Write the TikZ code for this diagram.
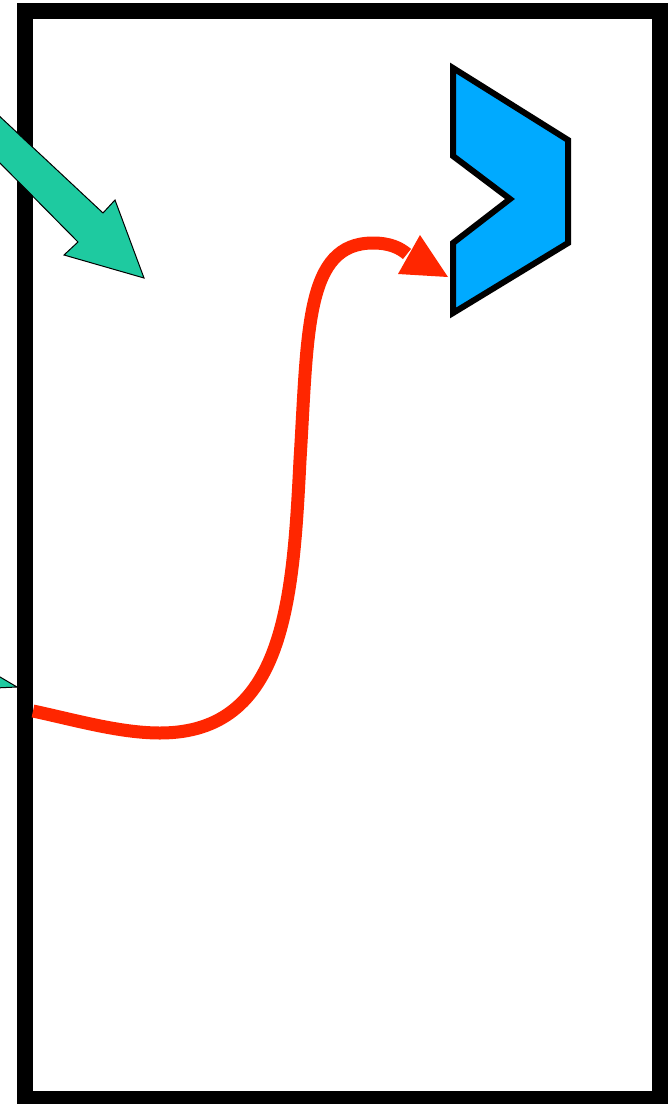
\documentclass[tikz,border=0pt]{standalone}
\usetikzlibrary{calc}
\definecolor{tealc}{RGB}{30,202,160}
\definecolor{redc}{RGB}{255,38,0}
\definecolor{bluec}{RGB}{0,170,255}
\tikzset{
  frame/.style={draw=black, line width=16pt, line join=miter},
  tealarrow/.style={fill=tealc, draw=black, line width=1pt, line join=miter},
  redline/.style={draw=redc, line width=13pt},
  redhead/.style={fill=redc},
  chevron/.style={fill=bluec, draw=black, line width=6pt, line join=miter}
}
\begin{document}
\begin{tikzpicture}[x=1pt, y=-1pt]
\useasboundingbox (0,0) rectangle (672,1104);
\fill[white] (0,0) rectangle (672,1104);
% frame
\draw[frame] (25,11) rectangle (659.5,1099);
% chevron shape
\draw[chevron] (453,68) -- (568,140) -- (568,243) -- (453,313) -- (453,243) -- (510,199) -- (453,156) -- cycle;
\coordinate (chev) at (448,277);
% red curve
\coordinate (start) at (33,711);
\coordinate (headbase) at (407,254);
\draw[redline] (start) .. controls (75,720) and (120,733) .. (160,733)
  .. controls (285,733) and (293,600) .. (300,460)
  .. controls (308,330) and (305,243) .. (373,243)
  .. controls (390,243) and (400,248) .. (headbase);
\fill[redhead] (398,274) -- (420,235) -- (chev) -- cycle;
% teal arrows
\draw[tealarrow] (-5,112) -- (103,213) -- (115,200) -- (144,278) -- (64,255) -- (78,242) -- (-5,158) -- cycle;
\draw[tealarrow] (-5,674) -- (17,687) -- (-5,688) -- cycle;
\end{tikzpicture}
\end{document}
